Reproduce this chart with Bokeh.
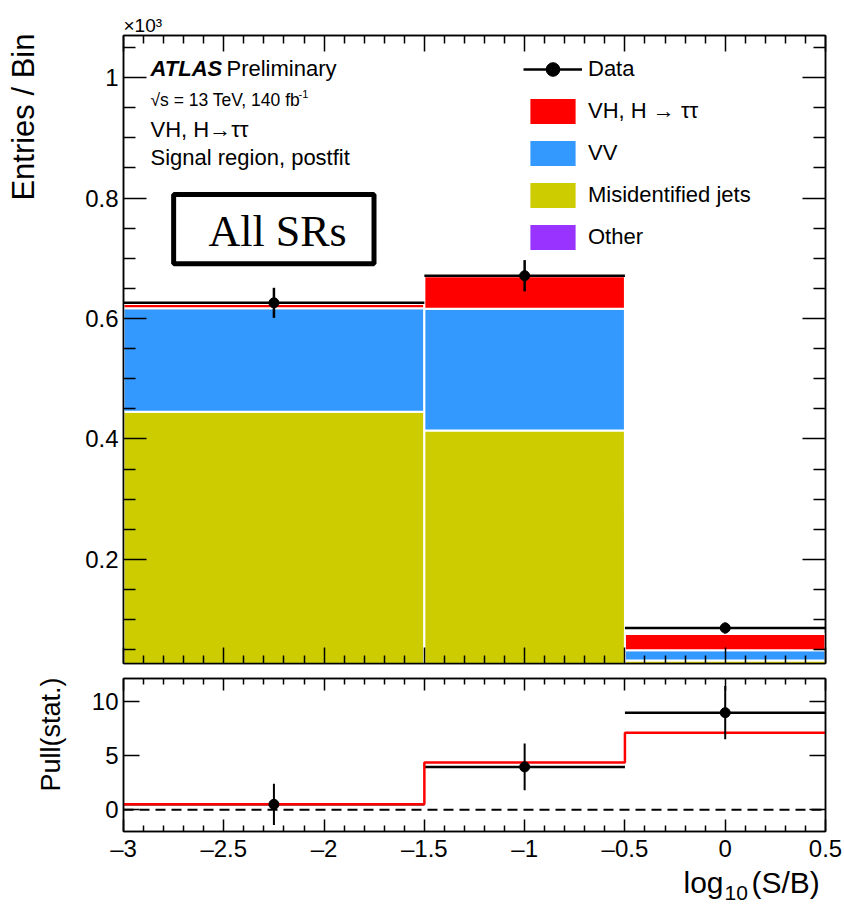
import math
import numpy as np
from bokeh.plotting import figure
from bokeh.models import (Range1d, LinearAxis, FixedTicker, Label, BoxAnnotation,
                          Legend, LegendItem, Title, CustomJSTickFormatter)
from bokeh.layouts import column, row
from bokeh.embed import file_html
from bokeh.resources import INLINE

# ---------------- data (entries in units of 10^3) ----------------
bin_lo = [-3.0, -1.5, -0.5]
bin_hi = [-1.5, -0.5, 0.5]
bin_center = [-2.25, -1.0, 0.0]

other = [0.003, 0.003, 0.001]
misid = [0.442, 0.411, 0.031]
vv = [0.172, 0.202, 0.017]
signal = [0.007, 0.054, 0.027]
data = [0.626, 0.671, 0.086]
data_err = [0.025, 0.026, 0.009]

pull = [0.5, 3.95, 8.95]
pull_err = [1.9, 2.15, 2.45]
pull_expected = [0.5, 4.35, 7.1]

x_ticks = [-3.0, -2.5, -2.0, -1.5, -1.0, -0.5, 0.0, 0.5]
x_tick_labels = ["\u20133", "\u20132.5", "\u20132", "\u20131.5", "\u20131", "\u20130.5", "0", "0.5"]
y_ticks = [0.2, 0.4, 0.6, 0.8, 1.0]
y_tick_labels = ["0.2", "0.4", "0.6", "0.8", "1"]
pull_ticks = [0.0, 5.0, 10.0]
pull_tick_labels = ["0", "5", "10"]

colors = {"signal": "#ff0000", "vv": "#3399ff", "misid": "#cccc00", "other": "#9933ff"}

SANS = "Liberation Sans"
SERIF = "Liberation Serif"

x_minor = [round(-3 + 0.1 * i, 2) for i in range(36) if i % 5 != 0]
y_minor = [round(0.05 * i, 2) for i in range(1, 22) if i % 4 != 0]

STRIP_W = 70          # left strip holding the rotated axis titles
BOTTOM_H = 40         # bottom strip holding the x-axis title
PAGE_H = 907
FRAME_LEFT = 123      # page x of the plot frames (column aligns the strip frame to it)


def make_fig(y_range, frame_h, top, bottom):
    p = figure(frame_width=702, frame_height=frame_h,
               x_range=Range1d(-3, 0.5), y_range=y_range,
               min_border_left=FRAME_LEFT - STRIP_W, min_border_right=19,
               min_border_top=top, min_border_bottom=bottom,
               output_backend="svg", toolbar_location=None)
    p.grid.visible = False
    p.outline_line_color = "black"
    p.outline_line_width = 1.5
    p.background_fill_color = "white"
    p.border_fill_color = "white"
    return p


def text_strip(width, height):
    s = figure(width=width, height=height, x_range=Range1d(0, 1), y_range=Range1d(0, 1),
               min_border=0, x_axis_location=None, y_axis_location=None,
               output_backend="svg", toolbar_location=None)
    s.grid.visible = False
    s.outline_line_color = None
    s.background_fill_color = "white"
    s.border_fill_color = "white"
    return s


def style_axis(ax, ticks, minor, major_len, minor_len, labels=None, size=24, standoff=5):
    ax.ticker = FixedTicker(ticks=ticks, minor_ticks=minor)
    ax.major_tick_in = major_len
    ax.major_tick_out = 0
    ax.minor_tick_in = minor_len
    ax.minor_tick_out = 0
    ax.axis_line_color = "black"
    ax.axis_line_width = 1.5
    ax.major_tick_line_color = "black"
    ax.minor_tick_line_color = "black"
    ax.major_tick_line_width = 1.5
    ax.minor_tick_line_width = 1.5
    if labels is not None:
        ax.major_label_overrides = dict(zip(ticks, labels))
        ax.major_label_text_font = SANS
        ax.major_label_text_font_size = f"{size}px"
        ax.major_label_text_color = "black"
        ax.major_label_standoff = standoff
    else:
        ax.formatter = CustomJSTickFormatter(code="return ''")
        ax.major_label_standoff = 0


def lab(fig, text, sx, base_y, size, font=SANS, style="normal", frame_bottom=663):
    # base_y: wanted baseline in canvas pixels (from top); glyph caps are centred on anchor
    sy = (frame_bottom - base_y) + 0.35 * size
    fig.add_layout(Label(x=sx, y=sy, x_units="screen", y_units="screen", text=text,
                         text_font=font, text_font_size=f"{size}px", text_font_style=style,
                         text_align="left", text_baseline="alphabetic",
                         text_color="black"))


def page_text(fig, text, x, base_y, size, x0, align="left", angle=0.0):
    # page-pixel positioned text inside a strip whose frame left edge is at x0, bottom at PAGE_H
    if angle:
        px, py = x - 0.35 * size, base_y
    else:
        px, py = x, base_y - 0.35 * size
    fig.add_layout(Label(x=px - x0, y=PAGE_H - py, x_units="screen", y_units="screen",
                         text=text, text_font=SANS,
                         text_font_size=f"{size}px", text_font_style="normal",
                         text_align=align, text_baseline="alphabetic", angle=angle,
                         text_color="black"))


# ---------------- top panel ----------------
p1 = make_fig(Range1d(0.027, 1.070), 628, 35, 8)
style_axis(p1.below[0], x_ticks, x_minor, 16, 8)
style_axis(p1.left[0], y_ticks, y_minor, 23, 12, y_tick_labels, 24, 5)
ax_r = LinearAxis()
ax_t = LinearAxis()
p1.add_layout(ax_r, "right")
p1.add_layout(ax_t, "above")
style_axis(ax_r, y_ticks, y_minor, 23, 12)
style_axis(ax_t, x_ticks, x_minor, 16, 8)
p1.add_layout(Title(text="\u00d710\u00b3", align="left", text_font=SANS, text_font_size="19px",
                    text_font_style="normal", text_color="black", standoff=0), "above")

b0 = np.zeros(3)
b1 = b0 + np.array(other)
b2 = b1 + np.array(misid)
b3 = b2 + np.array(vv)
b4 = b3 + np.array(signal)

r_other = p1.quad(left=bin_lo, right=bin_hi, bottom=b0, top=b1,
                  fill_color=colors["other"], line_color="white", line_width=2)
r_misid = p1.quad(left=bin_lo, right=bin_hi, bottom=b1, top=b2,
                  fill_color=colors["misid"], line_color="white", line_width=2)
r_vv = p1.quad(left=bin_lo, right=bin_hi, bottom=b2, top=b3,
               fill_color=colors["vv"], line_color="white", line_width=2)
r_sig = p1.quad(left=bin_lo, right=bin_hi, bottom=b3, top=b4,
                fill_color=colors["signal"], line_color="white", line_width=2)

d = np.array(data)
de = np.array(data_err)
r_hline = p1.segment(x0=bin_lo, x1=bin_hi, y0=data, y1=data, line_color="black", line_width=2.5)
p1.segment(x0=bin_center, x1=bin_center, y0=d - de, y1=d + de, line_color="black", line_width=2.5)
r_pts = p1.scatter(x=bin_center, y=data, marker="circle", size=10,
                   fill_color="black", line_color="black")

legend = Legend(items=[
    LegendItem(label="Data", renderers=[r_hline, r_pts]),
    LegendItem(label="VH, H \u2192 \u03c4\u03c4", renderers=[r_sig]),
    LegendItem(label="VV", renderers=[r_vv]),
    LegendItem(label="Misidentified jets", renderers=[r_misid]),
    LegendItem(label="Other", renderers=[r_other]),
], location=(400, 409), glyph_width=59, glyph_height=34, spacing=8, padding=0, margin=0,
    label_standoff=6, border_line_color=None, background_fill_alpha=0,
    label_text_font=SANS, label_text_font_size="22px", label_text_color="black")
p1.add_layout(legend)

box = BoxAnnotation(left=-2.75, right=-1.751, top=0.806, bottom=0.691,
                    fill_color=None, line_color="black", line_alpha=1.0, line_width=5)
p1.add_layout(box)

lab(p1, "ATLAS", 27, 75.7, 22, style="bold italic")
lab(p1, "Preliminary", 103, 75.7, 22)
lab(p1, "\u221as = 13 TeV, 140 fb", 27, 105.7, 17.5)
lab(p1, "-1", 175, 97.0, 11)
lab(p1, "VH, H\u2192\u03c4\u03c4", 27, 137, 22)
lab(p1, "Signal region, postfit", 27, 165, 22)
lab(p1, "All SRs", 85, 246.7, 44, font=SERIF)

# ---------------- pull panel ----------------
p2 = make_fig(Range1d(-2.0, 12.1), 153, 7, 36)
style_axis(p2.below[0], x_ticks, x_minor, 12, 6, x_tick_labels, 24, 3)
style_axis(p2.left[0], pull_ticks, [], 16, 0, pull_tick_labels, 24, 5)
ax_r2 = LinearAxis()
ax_t2 = LinearAxis()
p2.add_layout(ax_r2, "right")
p2.add_layout(ax_t2, "above")
style_axis(ax_r2, pull_ticks, [], 16, 0)
style_axis(ax_t2, x_ticks, x_minor, 12, 6)

p2.segment(x0=[-3.0], x1=[0.5], y0=[0.0], y1=[0.0], line_color="black",
           line_width=2, line_dash="10 6")
pe = np.array(pull)
pee = np.array(pull_err)
p2.segment(x0=bin_lo, x1=bin_hi, y0=pull, y1=pull, line_color="black", line_width=2.5)
edges = bin_lo + [bin_hi[-1]]
p2.step(x=edges, y=pull_expected + [pull_expected[-1]], mode="after",
        line_color="#ff0000", line_width=2.5)
p2.segment(x0=bin_center, x1=bin_center, y0=pe - pee, y1=pe + pee,
           line_color="black", line_width=2)
p2.scatter(x=bin_center, y=pull, marker="circle", size=10, fill_color="black", line_color="black")

# ---------------- axis titles ----------------
left_strip = text_strip(STRIP_W, PAGE_H)
page_text(left_strip, "Entries / Bin", 34, 33, 31, 0, align="right", angle=math.pi / 2)
page_text(left_strip, "Pull(stat.)", 60, 677, 27, 0, align="right", angle=math.pi / 2)

bottom_strip = text_strip(844 - STRIP_W, BOTTOM_H)
page_text(bottom_strip, "log", 683, 892, 30, FRAME_LEFT)
page_text(bottom_strip, "10", 724, 900, 21, FRAME_LEFT)
page_text(bottom_strip, "(S/B)", 751, 892, 30, FRAME_LEFT)

layout = row(left_strip, column(p1, p2, bottom_strip))
open("out.html", "w").write(file_html(layout, INLINE))
